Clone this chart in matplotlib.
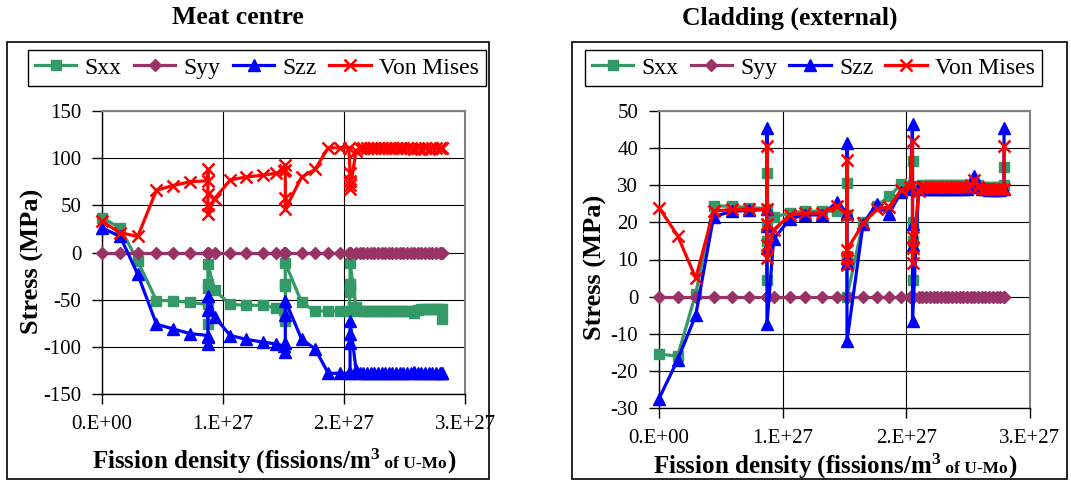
import matplotlib
matplotlib.use('Agg')
import matplotlib.pyplot as plt
import numpy as np
from matplotlib.patches import Rectangle
from matplotlib.offsetbox import TextArea, HPacker, AnnotationBbox

plt.rcParams['font.family'] = ['Liberation Serif', 'DejaVu Serif']
plt.rcParams['axes.unicode_minus'] = False
plt.rcParams['mathtext.fontset'] = 'custom'
plt.rcParams['mathtext.rm'] = 'Liberation Serif:bold'
plt.rcParams['mathtext.bf'] = 'Liberation Serif:bold'
plt.rcParams['mathtext.it'] = 'Liberation Serif:bold'

# ---- data (fission density in units of 1e27 fissions/m3) ----
series_names = ['Sxx', 'Syy', 'Szz', 'Von Mises']
x_ticklabels = ['0.E+00', '1.E+27', '2.E+27', '3.E+27']

# Meat centre
x_meat = [0.0, 0.15, 0.295, 0.45, 0.587, 0.73,
          0.875, 0.875, 0.875, 0.875, 0.875, 0.93,
          1.06, 1.19, 1.33, 1.44, 1.50,
          1.515, 1.515, 1.515, 1.515,
          1.65, 1.76, 1.87, 1.97, 2.04,
          2.05, 2.05, 2.05, 2.05,
          2.10, 2.13, 2.16, 2.19, 2.22, 2.25, 2.28, 2.31, 2.34, 2.37, 2.40, 2.43,
          2.46, 2.49, 2.52, 2.55, 2.58, 2.61, 2.64, 2.67, 2.70, 2.73, 2.76, 2.79,
          2.81, 2.81]
sxx_meat = [37, 26, -9, -51, -51, -53,
            -55, -76, -38, -33, -12, -40,
            -55, -56, -56, -59, -61,
            -73, -36, -33, -11,
            -53, -62, -62, -62, -62,
            -42, -36, -33, -11,
            -58, -62, -62, -62, -62, -62, -62, -62, -62, -62, -62, -62,
            -62, -62, -62, -62, -64, -61, -60, -60, -60, -60, -60, -60,
            -60, -70]
syy_meat = [0.0] * len(x_meat)
szz_meat = [26, 17, -23, -76, -81, -86,
            -88, -97, -90, -61, -46, -68,
            -88, -92, -95, -97, -99,
            -105, -96, -66, -51,
            -92, -102, -128, -128, -128,
            -128, -96, -86, -73,
            -125, -128, -128, -128, -128, -128, -128, -128, -128, -128, -128, -128,
            -128, -128, -128, -128, -127, -128, -128, -128, -128, -128, -128, -128,
            -128, -128]
vm_meat = [33, 21, 17, 66, 71, 75,
           76, 88, 62, 50, 41, 57,
           77, 80, 82, 84, 86,
           93, 87, 58, 46,
           80, 88, 111, 111, 111,
           84, 76, 72, 67,
           108, 111, 111, 111, 111, 111, 111, 111, 111, 111, 111, 111,
           111, 111, 111, 111, 110, 111, 110, 111, 110, 111, 111, 111,
           111, 111]

# Cladding (external)
x_clad = [0.0, 0.151, 0.297, 0.441, 0.589, 0.73,
          0.873, 0.873, 0.873, 0.873, 0.873, 0.927,
          1.06, 1.18, 1.32, 1.44,
          1.52, 1.52, 1.52, 1.52, 1.52,
          1.65, 1.76, 1.86, 1.96, 2.03,
          2.05, 2.05, 2.05, 2.05,
          2.10, 2.13, 2.16, 2.19, 2.22, 2.25, 2.28, 2.31, 2.34, 2.37, 2.40, 2.43,
          2.46, 2.49, 2.52, 2.55, 2.58, 2.61, 2.64, 2.67, 2.70, 2.73, 2.76,
          2.79, 2.79]
sxx_clad = [-15.5, -16, 0.8, 24.5, 24.3, 24,
            23.7, 33.3, 4.5, 15, 19, 21.5,
            22.5, 23, 23, 23,
            22, 30.5, 11, 9.5, 0,
            20, 24.3, 27, 30.3, 29.8,
            36.5, 20, 15, 4.5,
            29.5, 30, 30, 30, 30, 30, 30, 30, 30, 30, 30, 30,
            30, 30, 30, 30.5, 30, 29.5, 29.5, 29.5, 29.5, 29.5, 29.5,
            30, 35]
syy_clad = [0.0] * len(x_clad)
szz_clad = [-27.5, -17, -5, 21.5, 23, 23.2,
            23.5, 45.5, 19, 13, -7.5, 15.5,
            21, 22, 22, 25.5,
            22.5, 41.5, 10.5, 9, -12,
            19.5, 25, 22.3, 28.3, 29,
            46.5, 19.5, 14, -6.5,
            29.5, 29, 29, 29, 29, 29, 29, 29, 29, 29, 29, 29,
            29, 29, 30, 32.5, 29.5, 29, 29, 28.8, 28.8, 28.8, 28.8,
            29, 45.5]
vm_clad = [24, 16.4, 5, 23, 23.5, 23.5,
           23.5, 40.5, 19.5, 14, 10.5, 18,
           22, 22.5, 22.5, 24.5,
           22, 36.8, 8.5, 10.4, 12.6,
           19.7, 23.5, 24.2, 28.7, 29.5,
           42, 16, 13, 9,
           28.5, 29.5, 29.5, 29.5, 29.5, 29.5, 29.5, 29.5, 29.5, 29.5, 29.5, 29.5,
           29.5, 29.5, 30, 31.5, 29.5, 29, 29, 29, 29, 29, 29,
           29, 40.5]

colors = ['#339966', '#993366', '#0000FF', '#FF0000']
markers = ['s', 'D', '^', 'x']
msizes = [6.5, 6.5, 8.5, 9]

W, H = 1071, 483
fig = plt.figure(figsize=(W / 100, H / 100), dpi=100)


def fx(px):
    return px / W


def fy(py):
    return 1 - py / H


def make_panel(box, ax_rect, leg_rect, title, title_x, x, ys, ylim, yticks,
               ylab_xy, xlab_y):
    # panel frame
    fig.patches.append(Rectangle((fx(box[0]), fy(box[3])), fx(box[2] - box[0]),
                                 (box[3] - box[1]) / H, transform=fig.transFigure,
                                 fill=False, ec='black', lw=1.2))
    fig.text(fx(title_x), fy(18), title, ha='center', va='center',
             fontsize=18.5, fontweight='bold')

    ax = fig.add_axes([fx(ax_rect[0]), fy(ax_rect[3]), fx(ax_rect[2] - ax_rect[0]),
                       (ax_rect[3] - ax_rect[1]) / H])
    handles = []
    for yv, name, c, m, ms in zip(ys, series_names, colors, markers, msizes):
        mew = 1.8 if m == 'x' else 1.0
        h, = ax.plot(x, yv, color=c, lw=2.3, marker=m, ms=ms, mec=c, mfc=c,
                     mew=mew, label=name, clip_on=False, zorder=3)
        handles.append(h)

    ax.set_xlim(0, 3)
    ax.set_ylim(*ylim)
    ax.set_xticks([0, 1, 2, 3])
    ax.set_xticklabels(x_ticklabels)
    ax.set_yticks(yticks)
    ax.tick_params(direction='out', length=7, width=1, labelsize=15, colors='black')
    ax.tick_params(axis='x', pad=8)
    ax.tick_params(axis='y', pad=8)
    ax.grid(True, color='black', lw=0.8)
    ax.set_axisbelow(True)
    for s in ['top', 'right']:
        ax.spines[s].set_color('#808080')
        ax.spines[s].set_linewidth(1.5)
    for s in ['left', 'bottom']:
        ax.spines[s].set_color('black')
        ax.spines[s].set_linewidth(1.0)

    ax.set_ylabel('Stress (MPa)', fontsize=19, fontweight='bold')
    ax.yaxis.set_label_coords(*ylab_xy)

    leg = ax.legend(handles=handles, loc='center', ncol=4, mode='expand',
                    bbox_to_anchor=(fx(leg_rect[0]), fy(leg_rect[3]),
                                    fx(leg_rect[2] - leg_rect[0]),
                                    (leg_rect[3] - leg_rect[1]) / H),
                    bbox_transform=fig.transFigure, fontsize=17, numpoints=1,
                    handlelength=1.75, handletextpad=0.35, borderpad=0.3,
                    borderaxespad=0, fancybox=False, framealpha=1,
                    edgecolor='black')
    leg.get_frame().set_linewidth(1.0)

    # x label with small "of U-Mo"
    parts = [TextArea(r'Fission density (fissions/m$^{\mathbf{3}}$',
                      textprops=dict(fontsize=18, fontweight='bold')),
             TextArea(' of U-Mo', textprops=dict(fontsize=12.5, fontweight='bold')),
             TextArea(')', textprops=dict(fontsize=18, fontweight='bold'))]
    pack = HPacker(children=parts, align='baseline', pad=0, sep=0)
    xc = (ax_rect[0] + ax_rect[2]) / 2
    fig.add_artist(AnnotationBbox(pack, (fx(xc - 10), fy(xlab_y)),
                                  xycoords='figure fraction', frameon=False,
                                  box_alignment=(0.5, 0.5)))
    return ax


make_panel((7, 42, 489, 479), (102, 111, 465, 394), (28, 47, 486, 89),
           'Meat centre', 238, x_meat, [sxx_meat, syy_meat, szz_meat, vm_meat],
           (-150, 150), [-150, -100, -50, 0, 50, 100, 150], (-0.16, 0.47), 461)
make_panel((572, 42, 1067, 479), (659, 111, 1030, 408), (585, 47, 1042, 89),
           'Cladding (external)', 790, x_clad, [sxx_clad, syy_clad, szz_clad, vm_clad],
           (-30, 50), [-30, -20, -10, 0, 10, 20, 30, 40, 50], (-0.14, 0.475), 466)

fig.savefig('out.png', dpi=100)
